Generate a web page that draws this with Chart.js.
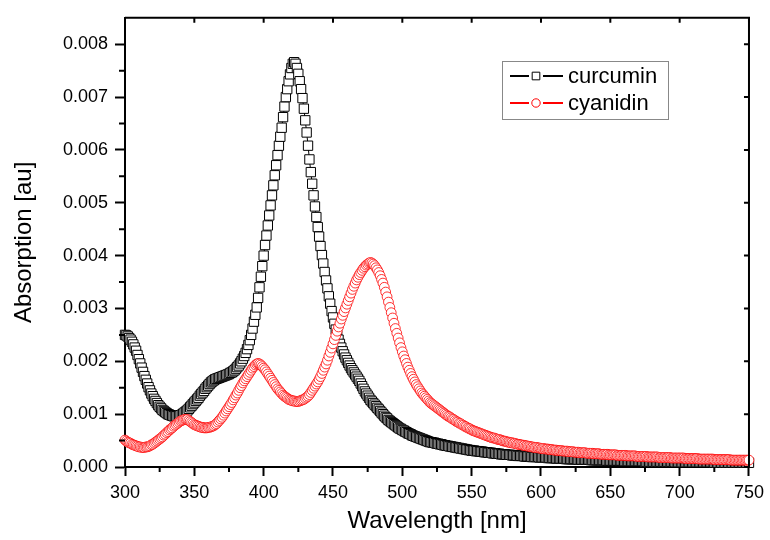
<!DOCTYPE html>
<html>
<head>
<meta charset="utf-8">
<title>Absorption spectra</title>
<script src="https://cdn.jsdelivr.net/npm/chart.js@4.4.1/dist/chart.umd.min.js"></script>
<style>
  html, body { margin: 0; padding: 0; background: #fff; }
  #wrap { width: 770px; height: 540px; }
</style>
</head>
<body>
<div id="wrap"><canvas id="spectra-chart" width="770" height="540"></canvas></div>
<script>
// absorbance in units of 1e-3, one value per nm starting at 300 nm
const startNm = 300;

const curcumin = [
  2.50, 2.49, 2.47, 2.44, 2.41, 2.37, 2.32, 2.26, 2.20, 2.12,
  2.04, 1.96, 1.88, 1.80, 1.72, 1.65, 1.58, 1.51, 1.45, 1.39,
  1.34, 1.29, 1.25, 1.21, 1.17, 1.14, 1.11, 1.08, 1.06, 1.04,
  1.02, 1.00, 0.99, 0.98, 0.97, 0.96, 0.96, 0.96, 0.96, 0.97,
  0.98, 0.99, 1.01, 1.03, 1.05, 1.07, 1.10, 1.13, 1.16, 1.19,
  1.22, 1.25, 1.28, 1.31, 1.35, 1.38, 1.41, 1.44, 1.48, 1.51,
  1.54, 1.57, 1.60, 1.62, 1.64, 1.66, 1.67, 1.68, 1.69, 1.70,
  1.71, 1.72, 1.73, 1.74, 1.75, 1.76, 1.78, 1.79, 1.81, 1.83,
  1.86, 1.89, 1.92, 1.96, 2.00, 2.05, 2.10, 2.16, 2.23, 2.31,
  2.40, 2.50, 2.62, 2.75, 2.88, 3.02, 3.20, 3.40, 3.60, 3.80,
  4.00, 4.20, 4.38, 4.57, 4.76, 4.95, 5.14, 5.33, 5.52, 5.71,
  5.90, 6.08, 6.25, 6.42, 6.62, 6.82, 7.00, 7.15, 7.30, 7.43,
  7.55, 7.63, 7.66, 7.63, 7.55, 7.44, 7.30, 7.15, 6.98, 6.78,
  6.56, 6.33, 6.08, 5.82, 5.58, 5.36, 5.14, 4.93, 4.73, 4.54,
  4.36, 4.18, 4.01, 3.85, 3.69, 3.53, 3.38, 3.23, 3.09, 2.95,
  2.83, 2.71, 2.60, 2.50, 2.41, 2.33, 2.26, 2.19, 2.13, 2.07,
  2.02, 1.97, 1.92, 1.87, 1.83, 1.79, 1.75, 1.71, 1.67, 1.63,
  1.58, 1.53, 1.48, 1.43, 1.39, 1.35, 1.31, 1.27, 1.24, 1.21,
  1.18, 1.15, 1.12, 1.09, 1.06, 1.03, 1.00, 0.97, 0.94, 0.92,
  0.89, 0.87, 0.85, 0.83, 0.81, 0.79, 0.77, 0.75, 0.73, 0.72,
  0.70, 0.69, 0.67, 0.66, 0.64, 0.63, 0.62, 0.60, 0.59, 0.58,
  0.57, 0.56, 0.55, 0.54, 0.53, 0.52, 0.51, 0.50, 0.49, 0.48,
  0.47, 0.47, 0.46, 0.46, 0.45, 0.44, 0.44, 0.43, 0.43, 0.42,
  0.41, 0.41, 0.40, 0.40, 0.39, 0.39, 0.38, 0.38, 0.37, 0.37,
  0.36, 0.36, 0.35, 0.35, 0.34, 0.34, 0.33, 0.33, 0.32, 0.32,
  0.31, 0.31, 0.31, 0.30, 0.30, 0.30, 0.29, 0.29, 0.29, 0.28,
  0.28, 0.28, 0.27, 0.27, 0.27, 0.26, 0.26, 0.26, 0.25, 0.25,
  0.25, 0.24, 0.24, 0.24, 0.24, 0.23, 0.23, 0.23, 0.23, 0.22,
  0.22, 0.22, 0.22, 0.21, 0.21, 0.21, 0.21, 0.21, 0.20, 0.20,
  0.20, 0.20, 0.20, 0.19, 0.19, 0.19, 0.19, 0.19, 0.19, 0.18,
  0.18, 0.18, 0.18, 0.18, 0.18, 0.17, 0.17, 0.17, 0.17, 0.17,
  0.17, 0.16, 0.16, 0.16, 0.16, 0.16, 0.16, 0.16, 0.15, 0.15,
  0.15, 0.15, 0.15, 0.15, 0.15, 0.15, 0.14, 0.14, 0.14, 0.14,
  0.14, 0.14, 0.14, 0.14, 0.14, 0.14, 0.13, 0.13, 0.13, 0.13,
  0.13, 0.13, 0.13, 0.13, 0.13, 0.13, 0.13, 0.12, 0.12, 0.12,
  0.12, 0.12, 0.12, 0.12, 0.12, 0.12, 0.12, 0.12, 0.12, 0.12,
  0.11, 0.11, 0.11, 0.11, 0.11, 0.11, 0.11, 0.11, 0.11, 0.11,
  0.11, 0.11, 0.11, 0.11, 0.11, 0.10, 0.10, 0.10, 0.10, 0.10,
  0.10, 0.10, 0.10, 0.10, 0.10, 0.10, 0.10, 0.10, 0.10, 0.10,
  0.10, 0.10, 0.10, 0.10, 0.10, 0.10, 0.10, 0.09, 0.09, 0.09,
  0.09, 0.09, 0.09, 0.09, 0.09, 0.09, 0.09, 0.09, 0.09, 0.09,
  0.09, 0.09, 0.09, 0.09, 0.09, 0.09, 0.09, 0.09, 0.09, 0.09,
  0.09, 0.09, 0.09, 0.09, 0.09, 0.08, 0.08, 0.08, 0.08, 0.08,
  0.08, 0.08, 0.08, 0.08, 0.08, 0.08, 0.08, 0.08, 0.08, 0.08,
  0.08, 0.08, 0.08, 0.08, 0.08, 0.08, 0.08, 0.08, 0.08, 0.08,
  0.08
];

const cyanidin = [
  0.51, 0.49, 0.47, 0.46, 0.45, 0.43, 0.42, 0.41, 0.40, 0.39,
  0.38, 0.38, 0.37, 0.37, 0.37, 0.38, 0.38, 0.39, 0.40, 0.42,
  0.43, 0.45, 0.47, 0.49, 0.51, 0.53, 0.55, 0.57, 0.60, 0.62,
  0.65, 0.67, 0.70, 0.72, 0.74, 0.77, 0.79, 0.81, 0.83, 0.85,
  0.87, 0.88, 0.89, 0.90, 0.90, 0.90, 0.88, 0.86, 0.84, 0.82,
  0.80, 0.79, 0.78, 0.77, 0.76, 0.75, 0.75, 0.74, 0.74, 0.74,
  0.75, 0.75, 0.76, 0.77, 0.78, 0.80, 0.82, 0.85, 0.88, 0.91,
  0.94, 0.98, 1.02, 1.06, 1.10, 1.14, 1.18, 1.22, 1.27, 1.31,
  1.36, 1.40, 1.45, 1.50, 1.54, 1.59, 1.63, 1.67, 1.71, 1.75,
  1.79, 1.83, 1.87, 1.90, 1.93, 1.95, 1.96, 1.95, 1.93, 1.90,
  1.87, 1.84, 1.80, 1.76, 1.72, 1.68, 1.64, 1.60, 1.56, 1.52,
  1.48, 1.45, 1.42, 1.39, 1.36, 1.34, 1.32, 1.30, 1.28, 1.27,
  1.26, 1.25, 1.25, 1.24, 1.24, 1.24, 1.25, 1.26, 1.27, 1.28,
  1.30, 1.32, 1.34, 1.37, 1.41, 1.45, 1.49, 1.53, 1.57, 1.61,
  1.66, 1.71, 1.77, 1.83, 1.89, 1.95, 2.02, 2.10, 2.17, 2.25,
  2.33, 2.41, 2.49, 2.57, 2.65, 2.72, 2.80, 2.87, 2.94, 3.01,
  3.08, 3.15, 3.22, 3.29, 3.36, 3.42, 3.48, 3.54, 3.59, 3.64,
  3.68, 3.72, 3.76, 3.79, 3.82, 3.84, 3.86, 3.87, 3.86, 3.84,
  3.81, 3.77, 3.73, 3.68, 3.62, 3.55, 3.48, 3.40, 3.31, 3.22,
  3.12, 3.02, 2.92, 2.82, 2.72, 2.62, 2.53, 2.44, 2.35, 2.26,
  2.18, 2.10, 2.03, 1.96, 1.89, 1.83, 1.77, 1.71, 1.66, 1.61,
  1.56, 1.52, 1.48, 1.44, 1.40, 1.37, 1.34, 1.31, 1.28, 1.25,
  1.22, 1.20, 1.18, 1.16, 1.14, 1.12, 1.10, 1.08, 1.06, 1.04,
  1.02, 1.00, 0.98, 0.96, 0.95, 0.93, 0.91, 0.90, 0.88, 0.86,
  0.85, 0.83, 0.82, 0.80, 0.79, 0.77, 0.76, 0.74, 0.73, 0.72,
  0.70, 0.69, 0.68, 0.67, 0.66, 0.65, 0.64, 0.63, 0.62, 0.61,
  0.60, 0.59, 0.58, 0.57, 0.56, 0.55, 0.55, 0.54, 0.53, 0.52,
  0.52, 0.51, 0.50, 0.49, 0.49, 0.48, 0.47, 0.47, 0.46, 0.46,
  0.45, 0.45, 0.44, 0.43, 0.43, 0.42, 0.42, 0.41, 0.41, 0.40,
  0.40, 0.39, 0.39, 0.38, 0.38, 0.37, 0.37, 0.37, 0.36, 0.36,
  0.35, 0.35, 0.35, 0.34, 0.34, 0.34, 0.33, 0.33, 0.33, 0.32,
  0.32, 0.32, 0.31, 0.31, 0.31, 0.31, 0.30, 0.30, 0.30, 0.30,
  0.29, 0.29, 0.29, 0.29, 0.28, 0.28, 0.28, 0.28, 0.27, 0.27,
  0.27, 0.27, 0.27, 0.26, 0.26, 0.26, 0.26, 0.26, 0.25, 0.25,
  0.25, 0.25, 0.25, 0.24, 0.24, 0.24, 0.24, 0.24, 0.24, 0.23,
  0.23, 0.23, 0.23, 0.23, 0.23, 0.22, 0.22, 0.22, 0.22, 0.22,
  0.22, 0.22, 0.21, 0.21, 0.21, 0.21, 0.21, 0.21, 0.21, 0.20,
  0.20, 0.20, 0.20, 0.20, 0.20, 0.20, 0.20, 0.19, 0.19, 0.19,
  0.19, 0.19, 0.19, 0.19, 0.19, 0.18, 0.18, 0.18, 0.18, 0.18,
  0.18, 0.18, 0.18, 0.18, 0.17, 0.17, 0.17, 0.17, 0.17, 0.17,
  0.17, 0.17, 0.17, 0.17, 0.16, 0.16, 0.16, 0.16, 0.16, 0.16,
  0.16, 0.16, 0.16, 0.16, 0.15, 0.15, 0.15, 0.15, 0.15, 0.15,
  0.15, 0.15, 0.15, 0.15, 0.15, 0.14, 0.14, 0.14, 0.14, 0.14,
  0.14, 0.14, 0.14, 0.14, 0.14, 0.14, 0.14, 0.13, 0.13, 0.13,
  0.13, 0.13, 0.13, 0.13, 0.13, 0.13, 0.13, 0.13, 0.13, 0.13,
  0.13
];

const xTicks = [300, 350, 400, 450, 500, 550, 600, 650, 700, 750];
const xMinorTicks = [325, 375, 425, 475, 525, 575, 625, 675, 725];
const yTicks = [0, 0.001, 0.002, 0.003, 0.004, 0.005, 0.006, 0.007, 0.008];
const yMinorTicks = [0.0005, 0.0015, 0.0025, 0.0035, 0.0045, 0.0055, 0.0065, 0.0075];

const FONT = "'Liberation Sans', Arial, sans-serif";

function toPoints(values) {
  return values.map((v, i) => ({ x: startNm + i, y: v / 1000 }));
}

// minor ticks on bottom/left, plus the closed frame with inward ticks on top/right
const axisFrame = {
  id: "axisFrame",
  afterDraw(chart) {
    const { ctx, chartArea: a, scales } = chart;
    const x = scales.x;
    const y = scales.y;
    ctx.save();
    ctx.strokeStyle = "#000";
    ctx.lineWidth = 2;
    ctx.beginPath();
    ctx.moveTo(a.left, a.top);
    ctx.lineTo(a.right, a.top);
    ctx.lineTo(a.right, a.bottom);
    ctx.stroke();

    ctx.beginPath();
    xMinorTicks.forEach((v) => {
      const px = x.getPixelForValue(v);
      ctx.moveTo(px, a.bottom);
      ctx.lineTo(px, a.bottom + 5);
    });
    yMinorTicks.forEach((v) => {
      const py = y.getPixelForValue(v);
      ctx.moveTo(a.left, py);
      ctx.lineTo(a.left - 6, py);
    });
    xTicks.forEach((v) => {
      const px = x.getPixelForValue(v);
      ctx.moveTo(px, a.top);
      ctx.lineTo(px, a.top + 5);
    });
    yTicks.forEach((v) => {
      const py = y.getPixelForValue(v);
      ctx.moveTo(a.right, py);
      ctx.lineTo(a.right - 5, py);
    });
    ctx.stroke();
    ctx.restore();
  }
};

// boxed legend sitting inside the plot
const legendBox = {
  id: "legendBox",
  afterDraw(chart) {
    const { ctx } = chart;
    ctx.save();
    ctx.strokeStyle = "#888";
    ctx.lineWidth = 1;
    ctx.strokeRect(502.5, 61.5, 166, 58);
    ctx.font = `22px ${FONT}`;
    ctx.textBaseline = "middle";
    ctx.fillStyle = "#000";
    chart.data.datasets.forEach((ds, i) => {
      const cy = 76 + i * 27;
      ctx.strokeStyle = ds.pointBorderColor;
      ctx.lineWidth = 2;
      ctx.beginPath();
      ctx.moveTo(510, cy);
      ctx.lineTo(529, cy);
      ctx.moveTo(543, cy);
      ctx.lineTo(563, cy);
      ctx.stroke();
      ctx.fillStyle = "#fff";
      ctx.lineWidth = 1;
      Chart.helpers.drawPoint(ctx, {
        pointStyle: ds.pointStyle,
        radius: ds.legendRadius,
        borderWidth: 1
      }, 536, cy);
      ctx.fillStyle = "#000";
      ctx.fillText(ds.label, 568, cy + 1);
    });
    ctx.restore();
  }
};

const ctx = document.getElementById("spectra-chart");

new Chart(ctx, {
  type: "line",
  data: {
    datasets: [
      {
        label: "curcumin",
        data: toPoints(curcumin),
        borderColor: "#000",
        borderWidth: 1,
        pointStyle: "rect",
        pointRadius: 6.6,
        pointBorderWidth: 1,
        pointBorderColor: "#000",
        pointBackgroundColor: "#fff",
        legendRadius: 5.4,
        order: 2,
        clip: 7
      },
      {
        label: "cyanidin",
        data: toPoints(cyanidin),
        borderColor: "#ff0000",
        borderWidth: 1,
        pointStyle: "circle",
        pointRadius: 4.9,
        pointBorderWidth: 0.8,
        pointBorderColor: "#ff0000",
        pointBackgroundColor: "#fff",
        legendRadius: 4.2,
        order: 1,
        clip: 7
      }
    ]
  },
  options: {
    responsive: false,
    animation: false,
    events: [],
    layout: { padding: { top: 10, right: 17, left: 0, bottom: 0 } },
    plugins: {
      legend: { display: false },
      tooltip: { enabled: false }
    },
    scales: {
      x: {
        type: "linear",
        min: 300,
        max: 750,
        afterBuildTicks: (scale) => {
          scale.ticks = xTicks.map((v) => ({ value: v }));
        },
        afterFit: (scale) => {
          scale.height = 73;
        },
        ticks: {
          color: "#000",
          font: { family: FONT, size: 18 },
          padding: 6,
          maxRotation: 0,
          autoSkip: false
        },
        grid: {
          drawOnChartArea: false,
          drawTicks: true,
          tickLength: 9,
          tickWidth: 2,
          tickColor: "#000"
        },
        border: { display: true, color: "#000", width: 2 },
        title: {
          display: true,
          text: "Wavelength [nm]",
          color: "#000",
          font: { family: FONT, size: 24 },
          padding: { top: 0, bottom: 4 }
        }
      },
      y: {
        type: "linear",
        min: 0,
        max: 0.0085,
        afterBuildTicks: (scale) => {
          scale.ticks = yTicks.map((v) => ({ value: v }));
        },
        afterFit: (scale) => {
          scale.width = 125;
        },
        ticks: {
          color: "#000",
          font: { family: FONT, size: 18 },
          padding: 7,
          callback: (v) => Number(v).toFixed(3)
        },
        grid: {
          drawOnChartArea: false,
          drawTicks: true,
          tickLength: 10,
          tickWidth: 2,
          tickColor: "#000"
        },
        border: { display: true, color: "#000", width: 2 },
        title: {
          display: true,
          text: "Absorption [au]",
          color: "#000",
          font: { family: FONT, size: 24 },
          padding: { top: 10, bottom: 0 }
        }
      }
    }
  },
  plugins: [axisFrame, legendBox]
});
</script>
</body>
</html>
